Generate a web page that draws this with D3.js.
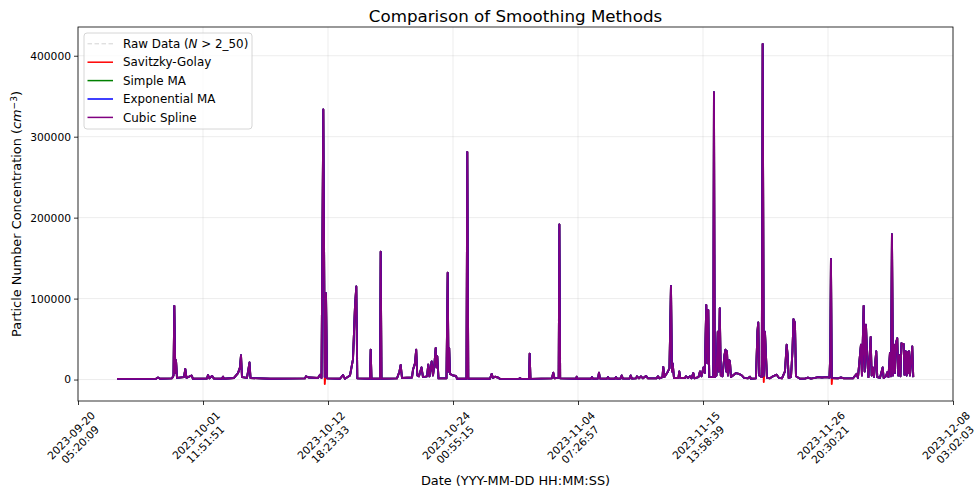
<!DOCTYPE html>
<html>
<head>
<meta charset="utf-8">
<script src="https://cdn.jsdelivr.net/npm/d3@7"></script>
<style>
  body { margin: 0; background: #fff; }
  svg { display: block; font-family: "DejaVu Sans", sans-serif; }
</style>
</head>
<body>
<svg id="chart" width="978" height="490"></svg>
<script>
// ---- data ---------------------------------------------------------------
// Measurement series: elapsed days since the first record, and concentration (cm^-3)
const recordStart = "2023-09-23 17:45:00";

const elapsedDays = [
  0.000, 3.517, 3.697, 3.877, 4.959, 5.095, 5.167, 5.257, 5.320, 5.410,
  6.041, 6.159, 6.267, 6.718, 6.853, 8.115, 8.205, 8.341, 8.566, 8.746,
  9.468, 9.558, 9.648, 10.550, 10.911, 11.091, 11.181, 11.271, 11.722, 11.948,
  12.038, 13.796, 16.952, 17.042, 17.313, 18.124, 18.305, 18.440, 18.602, 18.737,
  18.846, 18.936, 20.108, 20.378, 20.559, 21.010, 21.280, 21.460, 21.578, 21.668,
  22.813, 22.876, 22.948, 23.715, 23.778, 23.850, 25.248, 25.473, 25.581, 25.698,
  26.600, 26.690, 26.871, 26.979, 27.078, 27.231, 27.457, 27.592, 27.953, 28.070,
  28.178, 28.376, 28.494, 28.629, 28.737, 28.809, 28.881, 28.990, 29.711, 29.819,
  29.891, 29.955, 30.027, 30.297, 30.568, 30.658, 31.514, 31.587, 31.677, 33.633,
  33.787, 33.904, 34.084, 34.355, 34.535, 36.248, 36.339, 36.429, 37.150, 37.213,
  37.285, 39.224, 39.341, 39.449, 39.828, 39.891, 39.963, 41.388, 41.451, 41.523,
  42.741, 42.831, 42.921, 43.372, 43.462, 43.552, 44.183, 44.273, 44.364, 44.905,
  44.995, 45.085, 45.401, 45.509, 45.626, 46.212, 46.320, 46.438, 46.798, 46.888,
  47.069, 47.249, 47.429, 47.700, 47.880, 48.647, 48.782, 48.917, 49.188, 49.260,
  49.368, 49.684, 49.819, 49.954, 50.044, 50.107, 50.225, 50.630, 50.703, 50.793,
  51.217, 51.307, 51.487, 51.667, 51.803, 51.965, 52.073, 52.434, 52.569, 52.704,
  52.885, 53.002, 53.138, 53.237, 53.318, 53.408, 53.769, 53.831, 53.904, 54.057,
  54.174, 54.264, 54.354, 54.445, 54.598, 54.778, 54.868, 54.941, 55.004, 55.094,
  55.211, 55.274, 55.364, 55.545, 55.815, 56.086, 56.356, 56.537, 56.897, 57.078,
  57.168, 57.619, 57.754, 57.827, 57.917, 58.142, 58.223, 58.322, 58.430, 58.520,
  58.611, 58.881, 59.152, 59.486, 59.693, 59.963, 60.234, 60.387, 60.477, 60.567,
  60.775, 60.910, 61.000, 61.135, 61.225, 61.406, 61.586, 62.037, 62.307, 62.578,
  62.939, 63.209, 63.570, 63.931, 64.246, 64.318, 64.381, 64.453, 65.013, 65.283,
  65.554, 66.004, 66.365, 66.699, 66.816, 66.996, 67.086, 67.177, 67.330, 67.420,
  67.537, 67.654, 67.763, 67.961, 68.051, 68.142, 68.259, 68.466, 68.556, 68.800,
  69.043, 69.133, 69.341, 69.458, 69.566, 69.701, 69.792, 69.882, 69.972, 70.062,
  70.152, 70.242, 70.360, 70.450, 70.558, 70.648, 70.738, 70.829, 70.937, 71.009,
  71.117, 71.207, 71.279, 71.351, 71.415, 71.505, 71.595, 71.712, 71.802
];

// Cubic-spline smoothed concentration
const splineValues = [
  800, 900, 2500, 900, 1500, 5000, 91000, 8000, 24000, 2000,
  3000, 13000, 2000, 5000, 1000, 1200, 5500, 1500, 4500, 1200,
  1000, 3500, 1000, 2000, 8000, 15000, 30000, 3000, 2000, 21000,
  2000, 900, 1500, 4000, 2500, 2000, 6000, 2000, 333600, 3000,
  106700, 1500, 1000, 5500, 1000, 5000, 25000, 90000, 115000, 1500,
  1000, 37000, 1000, 1000, 158000, 1000, 1500, 10000, 18000, 2000,
  2500, 12000, 20000, 37000, 5000, 4000, 15000, 3000, 4000, 18500,
  4000, 22500, 5000, 20000, 39000, 15000, 28700, 1500, 1500, 132000,
  10000, 39000, 7000, 5000, 4500, 1000, 1000, 281000, 1000, 1000,
  7000, 2000, 3500, 2500, 800, 800, 2000, 800, 800, 32000,
  800, 1500, 8500, 1500, 2000, 191600, 1500, 900, 3500, 900,
  900, 3000, 900, 1200, 8500, 1200, 1000, 3000, 1000, 1000,
  3000, 1000, 1200, 5000, 1200, 1200, 5000, 1200, 1500, 4000,
  1500, 4000, 1500, 4500, 1500, 1500, 4000, 1500, 3000, 15600,
  3000, 10000, 14000, 115700, 10000, 20000, 2000, 2000, 10000, 2000,
  2000, 4000, 2000, 4000, 1500, 8000, 1500, 3000, 10000, 4000,
  15000, 8000, 92000, 20000, 86000, 3000, 3000, 355000, 3000, 5000,
  59000, 10000, 88000, 5000, 4000, 30000, 37000, 10000, 35000, 5000,
  24000, 22000, 3000, 5000, 8000, 7000, 5000, 2000, 1500, 3500,
  1000, 1500, 60000, 70500, 5000, 3000, 414500, 5000, 59000, 30000,
  2000, 1500, 4000, 6000, 2000, 1500, 10000, 43000, 30000, 2000,
  3000, 35000, 74700, 70000, 4000, 2500, 1000, 1200, 2500, 1200,
  2000, 3000, 2500, 3000, 2500, 30000, 149000, 2000, 1500, 2500,
  1500, 1500, 1500, 7000, 2000, 30000, 43000, 5000, 91000, 10000,
  67700, 25000, 3000, 52500, 5000, 15000, 3000, 35000, 3000, 2000,
  15000, 2000, 4000, 9000, 3000, 33000, 4000, 179700, 5000, 43000,
  8000, 45000, 51000, 5000, 30000, 4000, 45000, 44000, 44000, 6000,
  35000, 5000, 34000, 8000, 35000, 5000, 20000, 41000, 3000
];

// Savitzky-Golay: brief undershoots just after the sharpest peaks, then recovery
const sgDipDays = [18.737, 18.770, 58.322, 58.350, 64.453, 64.485];
const sgDipValues = [-5500, 2500, -3000, 4000, -5500, 1800];

const xTickLabels = [
  "2023-09-20 05:20:09", "2023-10-01 11:51:51", "2023-10-12 18:23:33",
  "2023-10-24 00:55:15", "2023-11-04 07:26:57", "2023-11-15 13:58:39",
  "2023-11-26 20:30:21", "2023-12-08 03:02:03"
];
const yTicks = [0, 100000, 200000, 300000, 400000];

const seriesNames = ["Raw Data", "Savitzky-Golay", "Simple MA", "Exponential MA", "Cubic Spline"];
const seriesColors = ["#d3d3d3", "#ff0000", "#008000", "#0000ff", "#800080"];

// ---- layout -------------------------------------------------------------
const M = { left: 78, right: 953, top: 27, bottom: 401 };

const svg = d3.select("#chart");
const parseTime = d3.timeParse("%Y-%m-%d %H:%M:%S");
const t0 = parseTime(recordStart);
const DAY = 86400000;
const toTime = d => new Date(t0.getTime() + d * DAY);

const splinePts = elapsedDays.map((d, i) => ({ d, v: splineValues[i] }));

// SG: spline readings with the undershoot samples replacing / added at their days
const sgPts = splinePts
  .filter(p => !sgDipDays.includes(p.d))
  .concat(sgDipDays.map((d, i) => ({ d, v: sgDipValues[i] })))
  .sort((a, b) => a.d - b.d);

const seriesData = [splinePts, sgPts, splinePts, splinePts, splinePts]
  .map(pts => pts.map(p => ({ t: toTime(p.d), v: p.v })));

// ---- scales -------------------------------------------------------------
const tickDates = xTickLabels.map(parseTime);
const x = d3.scaleTime()
  .domain([tickDates[0], tickDates[tickDates.length - 1]])
  .range([M.left, M.right]);

const allVals = splineValues.concat(sgDipValues);
const vMin = d3.min(allVals), vMax = d3.max(allVals);
const pad = (vMax - vMin) * 0.05;
const y = d3.scaleLinear()
  .domain([vMin - pad, vMax + pad])
  .range([M.bottom, M.top]);

// ---- grid ---------------------------------------------------------------
const grid = svg.append("g");
grid.selectAll("line.gx").data(tickDates).join("line")
  .attr("x1", d => x(d)).attr("x2", d => x(d))
  .attr("y1", M.top).attr("y2", M.bottom)
  .attr("stroke", "#b0b0b0").attr("stroke-opacity", 0.3).attr("stroke-width", 0.8);
grid.selectAll("line.gy").data(yTicks).join("line")
  .attr("x1", M.left).attr("x2", M.right)
  .attr("y1", d => y(d)).attr("y2", d => y(d))
  .attr("stroke", "#b0b0b0").attr("stroke-opacity", 0.3).attr("stroke-width", 0.8);

// ---- lines --------------------------------------------------------------
svg.append("defs").append("clipPath").attr("id", "plot-clip")
  .append("rect").attr("x", M.left).attr("y", M.top)
  .attr("width", M.right - M.left).attr("height", M.bottom - M.top);

const line = d3.line().x(d => x(d.t)).y(d => y(d.v));
const lines = svg.append("g").attr("clip-path", "url(#plot-clip)");
seriesData.forEach((data, i) => {
  lines.append("path")
    .datum(data)
    .attr("d", line)
    .attr("fill", "none")
    .attr("stroke", seriesColors[i])
    .attr("stroke-width", i === 0 ? 1 : 1.9)
    .attr("stroke-dasharray", i === 0 ? "4.5,2.5" : null)
    .attr("stroke-linejoin", "round");
});

// ---- axes ---------------------------------------------------------------
const yAxis = svg.append("g").attr("transform", `translate(${M.left},0)`)
  .call(d3.axisLeft(y).tickValues(yTicks).tickFormat(d3.format("d")).tickSize(4).tickPadding(3));
yAxis.select(".domain").remove();
yAxis.selectAll("text").attr("font-size", 10.7).attr("fill", "#000").attr("font-family", "DejaVu Sans");
yAxis.selectAll("line").attr("stroke", "#000").attr("stroke-width", 0.8);

const xAxis = svg.append("g").attr("transform", `translate(0,${M.bottom})`)
  .call(d3.axisBottom(x).tickValues(tickDates).tickFormat("").tickSize(4));
xAxis.select(".domain").remove();
xAxis.selectAll("line").attr("stroke", "#000").attr("stroke-width", 0.8);

// rotated two-line date labels, box centred under each tick
tickDates.forEach((d, i) => {
  const g = svg.append("g").attr("transform", `translate(${x(d)},0)`);
  const t = g.append("text")
    .attr("font-size", 10.7).attr("text-anchor", "middle").attr("fill", "#000");
  const parts = xTickLabels[i].split(" ");
  t.append("tspan").attr("x", 0).attr("dy", 0).text(parts[0]);
  t.append("tspan").attr("x", 0).attr("dy", "1.2em").text(parts[1]);
  t.attr("transform", "rotate(-45)");
  const bb = g.node().getBBox();
  const dx = -(bb.x + bb.width / 2) - 2;
  const dy = 409 - bb.y;
  t.attr("transform", `translate(${dx},${dy}) rotate(-45)`);
});

// frame
svg.append("rect")
  .attr("x", M.left).attr("y", M.top)
  .attr("width", M.right - M.left).attr("height", M.bottom - M.top)
  .attr("fill", "none").attr("stroke", "#000").attr("stroke-width", 0.8);

// ---- titles -------------------------------------------------------------
svg.append("text")
  .attr("x", (M.left + M.right) / 2).attr("y", 22)
  .attr("text-anchor", "middle").attr("font-size", 16.7).attr("fill", "#000")
  .text("Comparison of Smoothing Methods");

svg.append("text")
  .attr("x", (M.left + M.right) / 2).attr("y", 485)
  .attr("text-anchor", "middle").attr("font-size", 12.9).attr("fill", "#000")
  .text("Date (YYY-MM-DD HH:MM:SS)");

const yl = svg.append("text")
  .attr("transform", `translate(21,${(M.top + M.bottom) / 2}) rotate(-90)`)
  .attr("text-anchor", "middle").attr("font-size", 12.9).attr("fill", "#000");
yl.append("tspan").text("Particle Number Concentration (");
yl.append("tspan").attr("font-style", "italic").text("cm");
yl.append("tspan").attr("font-size", "0.7em").attr("dy", "-0.5em").text("\u22123");
yl.append("tspan").attr("dy", "0.35em").text(")");

// ---- legend -------------------------------------------------------------
const lg = svg.append("g");
lg.append("rect")
  .attr("x", 84).attr("y", 33).attr("width", 168).attr("height", 96).attr("rx", 3)
  .attr("fill", "#fff").attr("fill-opacity", 0.8)
  .attr("stroke", "#cccccc").attr("stroke-width", 0.8);
seriesNames.forEach((name, i) => {
  const cy = 43.8 + i * 18.4;
  lg.append("line")
    .attr("x1", 87.5).attr("x2", 113).attr("y1", cy).attr("y2", cy)
    .attr("stroke", seriesColors[i]).attr("stroke-width", i === 0 ? 1 : 1.5)
    .attr("stroke-dasharray", i === 0 ? "4.5,2.5" : null);
  const tx = lg.append("text")
    .attr("x", 123).attr("y", cy + 4.2)
    .attr("font-size", 11.9).attr("fill", "#000");
  if (i === 0) {
    tx.append("tspan").text(name + " (");
    tx.append("tspan").attr("font-style", "italic").text("N");
    tx.append("tspan").text(" > 2_50)");
  } else {
    tx.text(name);
  }
});
</script>
</body>
</html>
